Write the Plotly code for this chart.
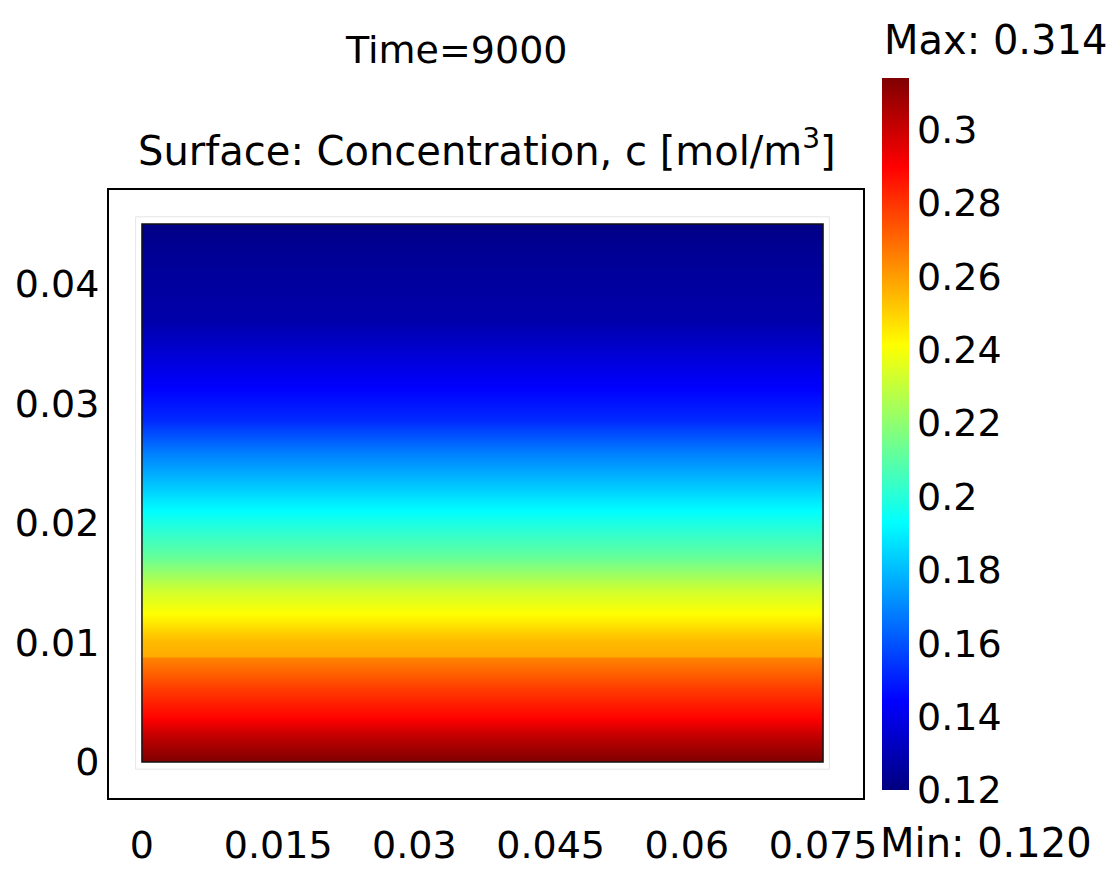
import plotly.graph_objects as go

# ---- data ----
x_edges = [0.0, 0.075]                      # domain width (m)
y_pos = [0.0, 0.00042, 0.00209, 0.00376, 0.00602, 0.00828, 0.0087, 0.00887,
         0.0102, 0.01246, 0.01439, 0.01715, 0.0200, 0.0229, 0.02585, 0.0286,
         0.03137, 0.03697, 0.04257, 0.045]
conc = [0.314, 0.312, 0.302, 0.289, 0.279, 0.267, 0.265, 0.257,
        0.254, 0.241, 0.232, 0.212, 0.198, 0.183, 0.1685, 0.152,
        0.144, 0.128, 0.124, 0.121]
x_ticks = [0, 0.015, 0.03, 0.045, 0.06, 0.075]
x_ticktext = ["0", "0.015", "0.03", "0.045", "0.06", "0.075"]
y_ticks = [0, 0.01, 0.02, 0.03, 0.04]
y_ticktext = ["0", "0.01", "0.02", "0.03", "0.04"]
cb_ticks = [0.12, 0.14, 0.16, 0.18, 0.2, 0.22, 0.24, 0.26, 0.28, 0.3]
cb_ticktext = ["0.12", "0.14", "0.16", "0.18", "0.2", "0.22", "0.24", "0.26", "0.28", "0.3"]
c_min, c_max = 0.120, 0.314

z = [[c, c] for c in conc]

jet = [[0.0, "rgb(0,0,128)"], [0.125, "rgb(0,0,255)"], [0.375, "rgb(0,255,255)"],
       [0.625, "rgb(255,255,0)"], [0.875, "rgb(255,0,0)"], [1.0, "rgb(128,0,0)"]]

FONT = "DejaVu Sans"
FS = 38

# layout geometry (pixels)
W, H = 1112, 872
L, R, T, B = 109, 863, 190, 798
pw, ph = R - L, B - T

def px(x):
    return (x - L) / pw

def py(y):
    return (B - y) / ph

fig = go.Figure()
fig.add_trace(go.Contour(
    x=x_edges, y=y_pos, z=z,
    colorscale=jet, zmin=c_min, zmax=c_max,
    contours=dict(coloring="heatmap", showlines=False),
    line=dict(width=0),
    ncontours=60,
    hoverinfo="skip",
    colorbar=dict(
        x=px(882), xanchor="left", xpad=0,
        y=py(78), yanchor="top", ypad=0,
        len=712, lenmode="pixels",
        thickness=27, thicknessmode="pixels",
        outlinewidth=0,
        tickvals=cb_ticks, ticktext=cb_ticktext,
        ticks="", ticklen=0,
        tickfont=dict(family=FONT, size=FS, color="black"),
    ),
))

# faint outline around the domain and the domain border
fig.add_shape(type="rect", x0=-0.0007, x1=0.0757, y0=-0.0006, y1=0.0456,
              line=dict(color="#e6e6e6", width=1), layer="below")
fig.add_shape(type="rect", x0=0, x1=0.075, y0=0, y1=0.045,
              line=dict(color="#111111", width=1.5), layer="above")

fig.update_xaxes(range=[-0.00363, 0.0794], tickvals=x_ticks, ticktext=x_ticktext,
                 showgrid=False, zeroline=False, showline=True, mirror=True,
                 linecolor="black", linewidth=2, ticks="",
                 ticklabelstandoff=12,
                 tickfont=dict(family=FONT, size=FS, color="black"))
fig.update_yaxes(range=[-0.00301, 0.04784], tickvals=y_ticks, ticktext=y_ticktext,
                 showgrid=False, zeroline=False, showline=True, mirror=True,
                 linecolor="black", linewidth=2, ticks="",
                 ticklabelstandoff=0,
                 tickfont=dict(family=FONT, size=FS, color="black"))

fig.add_annotation(text="Time=9000", xref="paper", yref="paper",
                   x=px(456), y=py(50), showarrow=False,
                   font=dict(family=FONT, size=FS, color="black"),
                   xanchor="center", yanchor="middle")
fig.add_annotation(text="Surface: Concentration, c [mol/m<sup>3</sup>]", xref="paper", yref="paper",
                   x=px(487), y=py(148), showarrow=False,
                   font=dict(family=FONT, size=40, color="black"),
                   xanchor="center", yanchor="middle")
fig.add_annotation(text="Max: 0.314", xref="paper", yref="paper",
                   x=px(882), y=py(40), showarrow=False,
                   font=dict(family=FONT, size=40, color="black"),
                   xanchor="left", yanchor="middle")
fig.add_annotation(text="Min: 0.120", xref="paper", yref="paper",
                   x=px(878), y=py(843), showarrow=False,
                   font=dict(family=FONT, size=40, color="black"),
                   xanchor="left", yanchor="middle")

fig.update_layout(
    width=W, height=H,
    margin=dict(l=L, r=W - R, t=T, b=H - B, pad=0, autoexpand=False),
    paper_bgcolor="white", plot_bgcolor="white",
    showlegend=False,
    font=dict(family=FONT, size=FS, color="black"),
)

fig.write_html("out.html", config={"displayModeBar": False},
               post_script="document.body.style.margin='0';")
